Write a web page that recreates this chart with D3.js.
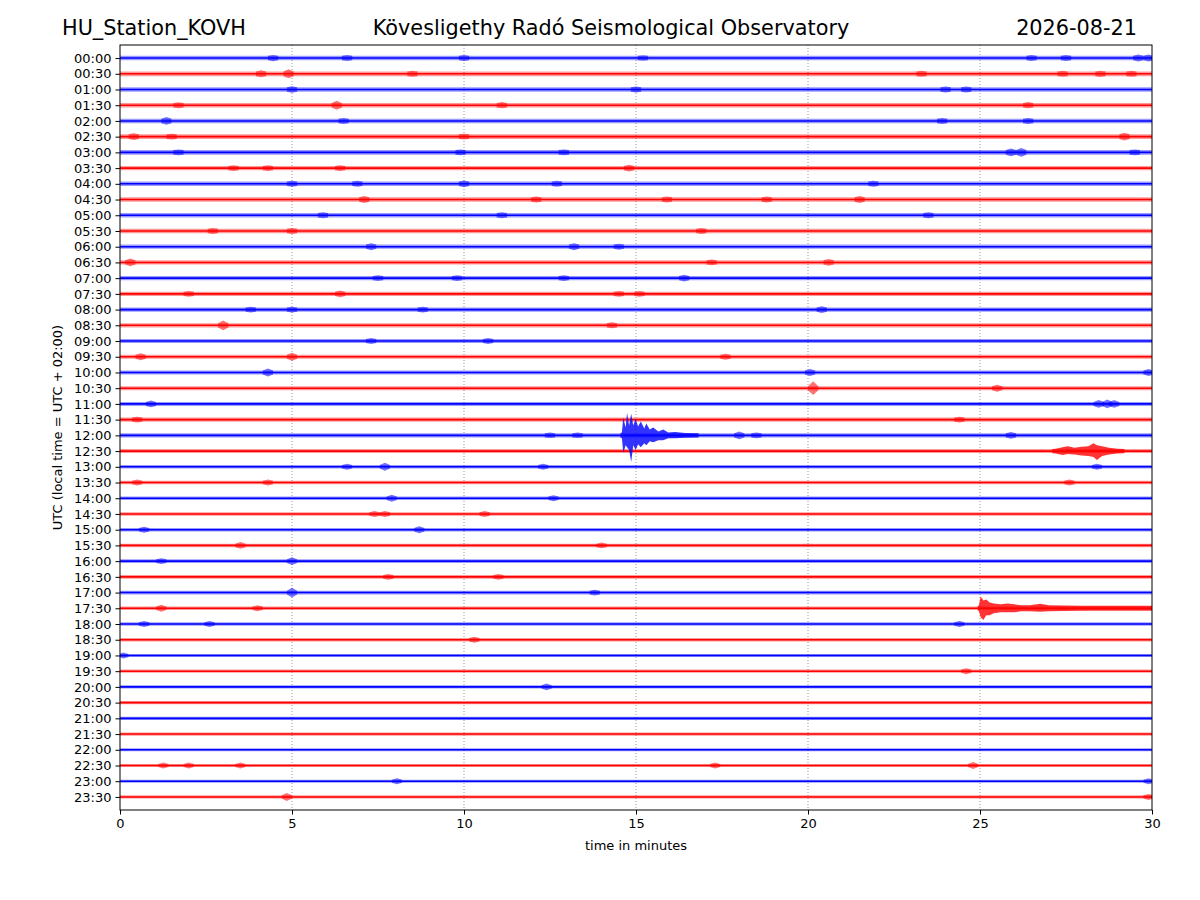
<!DOCTYPE html>
<html>
<head>
<meta charset="utf-8">
<script src="https://cdn.jsdelivr.net/npm/d3@7/dist/d3.min.js"></script>
<style>
  html, body { margin: 0; padding: 0; background: #fff; }
  svg { display: block; font-family: "DejaVu Sans", sans-serif; }
</style>
</head>
<body>
<svg id="chart" width="1200" height="900"></svg>
<script>
// ---------------- DATA ----------------
const stationName = "HU_Station_KOVH";
const observatory = "Kövesligethy Radó Seismological Observatory";
const dateLabel = "2026-08-21";
const yAxisTitle = "UTC (local time = UTC + 02:00)";
const xAxisTitle = "time in minutes";

const timeLabels = [
  "00:00","00:30","01:00","01:30","02:00","02:30","03:00","03:30",
  "04:00","04:30","05:00","05:30","06:00","06:30","07:00","07:30",
  "08:00","08:30","09:00","09:30","10:00","10:30","11:00","11:30",
  "12:00","12:30","13:00","13:30","14:00","14:30","15:00","15:30",
  "16:00","16:30","17:00","17:30","18:00","18:30","19:00","19:30",
  "20:00","20:30","21:00","21:30","22:00","22:30","23:00","23:30"
];
const xTicks = [0, 5, 10, 15, 20, 25, 30];
const gridMinutes = [5, 10, 15, 20, 25];

// background noise half-amplitude of each trace (amplitude units)
const noiseLevel = [
  2.3,2.4,2.3,2.3,2.3,2.4,2.3,2.2,2.3,2.3,2.2,2.2,
  2.2,2.2,2.1,2.1,2.1,2.1,2.1,2.1,2.1,2.1,2.0,2.1,
  2.1,2.0,1.8,1.7,1.7,1.7,1.8,1.8,1.9,1.9,1.9,1.8,
  1.7,1.7,1.6,1.6,1.6,1.6,1.6,1.6,1.6,1.6,1.6,1.7
];

// short noise bursts: [trace index, minute, half-amplitude]
const bursts = [
  [0,4.45,3.2],[0,6.6,3],[0,10,3],[0,15.2,2.8],[0,26.5,3],[0,27.5,3],[0,29.6,3.5],[0,29.9,3.5],
  [1,4.1,3.5],[1,4.9,4.5],[1,8.5,3],[1,23.3,3],[1,27.4,3],[1,28.5,3.2],[1,29.4,3],
  [2,5.0,3.2],[2,15,3],[2,24.0,3],[2,24.6,3],
  [3,1.7,3],[3,6.3,4.5],[3,11.1,3.2],[3,26.4,3.2],
  [4,1.35,4],[4,6.5,3],[4,23.9,3],[4,26.4,3],
  [5,0.4,3.5],[5,1.5,3],[5,10.0,3],[5,29.2,4],
  [6,1.7,3],[6,9.9,3],[6,12.9,3],[6,25.9,4],[6,26.2,4.5],[6,29.5,3],
  [7,3.3,3],[7,4.3,3],[7,6.4,3],[7,14.8,3.5],
  [8,5.0,3],[8,6.9,3],[8,10.0,3.5],[8,12.7,3],[8,21.9,3],
  [9,7.1,3.5],[9,12.1,3],[9,15.9,3],[9,18.8,3],[9,21.5,3.5],
  [10,5.9,3],[10,11.1,3],[10,23.5,3],
  [11,2.7,3],[11,5.0,3],[11,16.9,3],
  [12,7.3,3.5],[12,13.2,3.5],[12,14.5,3],
  [13,0.3,4],[13,17.2,3],[13,20.6,3.5],
  [14,7.5,3],[14,9.8,3],[14,12.9,3],[14,16.4,3.5],
  [15,2.0,3],[15,6.4,3.5],[15,14.5,3],[15,15.1,3],
  [16,3.8,3],[16,5.0,3],[16,8.8,3],[16,20.4,3.5],
  [17,3.0,5],[17,14.3,3],
  [18,7.3,3],[18,10.7,3],
  [19,0.6,3.5],[19,5.0,4],[19,17.6,3],
  [20,4.3,4],[20,20.06,3.5],[20,29.9,3.5],
  [21,20.15,7],[21,25.5,3.5],
  [22,0.9,3.5],[22,28.45,4],[22,28.7,4.5],[22,28.9,4],
  [23,0.5,3],[23,24.4,3],
  [24,12.5,2.8],[24,13.3,2.8],[24,18.0,4],[24,18.5,3],[24,25.9,3.5],
  [26,6.6,3],[26,7.7,4],[26,12.3,3],[26,28.4,3],
  [27,0.5,3],[27,4.3,3],[27,27.6,3],
  [28,7.9,3.5],[28,12.6,3],
  [29,7.4,3],[29,7.7,3],[29,10.6,3],
  [30,0.7,3],[30,8.7,3.5],
  [31,3.5,3.5],[31,14.0,3],
  [32,1.2,3],[32,5.0,4],
  [33,7.8,3],[33,11.0,3],
  [34,5.0,5],[34,13.8,3],
  [35,1.2,3.5],[35,4.0,3],
  [36,0.7,3],[36,2.6,3],[36,24.4,3],
  [37,10.3,3],
  [38,0.1,3],
  [39,24.6,3],
  [40,12.4,3.5],
  [45,1.26,3],[45,2.0,3],[45,3.5,3],[45,17.3,3],[45,24.8,3.5],
  [46,8.05,3],[46,29.9,3],
  [47,4.85,4],[47,29.9,3]
];

// earthquake envelopes: trace index and [minute, upward, downward] half-amplitudes
const eventTraces = [24, 25, 35];
const eventEnvelopes = [
  [[14.55,2.5,2.5],[14.59,3,3],[14.63,18,18],[14.70,8,10],[14.74,23,12],[14.80,10,15],[14.86,22,27],
   [14.92,10,10],[14.99,17,15],[15.06,9,9],[15.14,14,12],[15.24,7,8],[15.30,12,10],[15.40,6,6],
   [15.50,8,7],[15.65,4,5],[15.79,6,5],[15.94,3,3],[16.13,3.5,3],[16.43,2.5,2.5],[16.82,2.2,2.2]],
  [[27.1,2.2,2.2],[27.2,2.5,2.5],[27.4,4,4],[27.55,5,3],[27.75,3.5,3.5],[27.95,4.5,4.5],[28.15,5,5],
   [28.3,8,6],[28.4,6,9],[28.55,5,5],[28.75,3.5,3.5],[29.0,2.5,2.5],[29.2,2.2,2.2]],
  [[24.93,2,2],[24.97,3,3],[25.02,12,9],[25.1,8,12],[25.18,9,7],[25.28,6,7],[25.4,5,5],[25.6,4,4],
   [25.8,5,4],[26.0,4,4],[26.2,3,3],[26.45,3,3],[26.75,4.5,3.5],[27.0,3,3],[27.4,2.8,2.8],
   [28.0,2.6,2.6],[29.0,2.6,2.6],[30.0,2.6,2.6]]
];

// ---------------- LAYOUT ----------------
const plot = { left: 120, right: 1152, top: 45, bottom: 810 };
const traceColors = ["#0000ff", "#ff0000"];

const svg = d3.select("#chart");

const x = d3.scaleLinear().domain([0, 30]).range([plot.left, plot.right]);
const y = d3.scalePoint().domain(timeLabels).range([plot.top, plot.bottom]).padding(0.83);
const yStep = y.step();
const amp = d3.scaleLinear().domain([0, 16]).range([0, yStep]);

// grid
svg.append("g").selectAll("line").data(gridMinutes).join("line")
  .attr("x1", d => x(d)).attr("x2", d => x(d))
  .attr("y1", plot.top).attr("y2", plot.bottom)
  .attr("stroke", "#808080").attr("stroke-width", 0.8)
  .attr("stroke-dasharray", "1,2");

svg.append("clipPath").attr("id", "plotclip")
  .append("rect").attr("x", plot.left).attr("y", plot.top)
  .attr("width", plot.right - plot.left).attr("height", plot.bottom - plot.top);
const plotG = svg.append("g").attr("clip-path", "url(#plotclip)");

const symArea = (label) => d3.area()
  .x(d => x(d[0]))
  .y0(d => y(label) - amp(d[1]))
  .y1(d => y(label) + amp(d[1]));
const asymArea = (label) => d3.area()
  .x(d => x(d[0]))
  .y0(d => y(label) - amp(d[1]))
  .y1(d => y(label) + amp(d[2]));

// base noise bands and core lines
timeLabels.forEach((lab, i) => {
  const col = traceColors[i % 2];
  plotG.append("path")
    .datum([[0, noiseLevel[i]], [30, noiseLevel[i]]])
    .attr("d", symArea(lab))
    .attr("fill", col).attr("fill-opacity", 0.4);
  plotG.append("line")
    .attr("x1", x(0)).attr("x2", x(30))
    .attr("y1", y(lab)).attr("y2", y(lab))
    .attr("stroke", col).attr("stroke-width", 1.6);
});

// bursts
bursts.forEach(([ti, m, a]) => {
  const lab = timeLabels[ti];
  const base = noiseLevel[ti];
  plotG.append("path")
    .datum([[m - 0.15, base], [m, a], [m + 0.15, base]])
    .attr("d", symArea(lab))
    .attr("fill", traceColors[ti % 2]).attr("fill-opacity", 0.55);
});

// events
eventEnvelopes.forEach((env, k) => {
  const ti = eventTraces[k];
  plotG.append("path")
    .datum(env)
    .attr("d", asymArea(timeLabels[ti]))
    .attr("fill", traceColors[ti % 2]).attr("fill-opacity", 0.8);
});

// frame
svg.append("rect")
  .attr("x", plot.left).attr("y", plot.top)
  .attr("width", plot.right - plot.left).attr("height", plot.bottom - plot.top)
  .attr("fill", "none").attr("stroke", "#000").attr("stroke-width", 1);

// axes
const xAxis = d3.axisBottom(x).tickValues(xTicks).tickFormat(d3.format("d")).tickSize(4.5).tickPadding(4);
const gx = svg.append("g").attr("transform", `translate(0,${plot.bottom})`).call(xAxis);
const yAxis = d3.axisLeft(y).tickSize(4.5).tickPadding(4);
const gy = svg.append("g").attr("transform", `translate(${plot.left},0)`).call(yAxis);
[gx, gy].forEach(g => {
  g.select(".domain").remove();
  g.selectAll(".tick line").attr("stroke", "#000").attr("stroke-width", 1);
  g.selectAll(".tick text").attr("fill", "#000")
    .style("font-family", "'DejaVu Sans', sans-serif").style("font-size", "13px");
});

// titles
svg.append("text").attr("x", 62).attr("y", 35)
  .style("font-size", "20.8px").attr("fill", "#000").text(stationName);
svg.append("text").attr("x", 611).attr("y", 35).attr("text-anchor", "middle")
  .style("font-size", "20.8px").attr("fill", "#000").text(observatory);
svg.append("text").attr("x", 1137).attr("y", 35).attr("text-anchor", "end")
  .style("font-size", "20.8px").attr("fill", "#000").text(dateLabel);

svg.append("text").attr("x", (plot.left + plot.right) / 2).attr("y", 850)
  .attr("text-anchor", "middle").style("font-size", "13px").attr("fill", "#000").text(xAxisTitle);
svg.append("text")
  .attr("transform", `translate(62,${(plot.top + plot.bottom) / 2}) rotate(-90)`)
  .attr("text-anchor", "middle").style("font-size", "13px").attr("fill", "#000").text(yAxisTitle);
</script>
</body>
</html>
